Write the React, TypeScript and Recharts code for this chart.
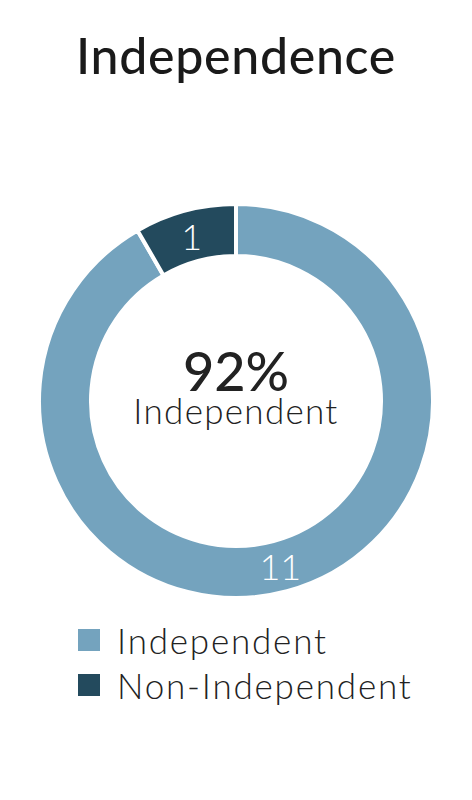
import { Cell, Pie, PieChart } from "recharts";

const categories = ["Independent", "Non-Independent"];
const counts = [11, 1];
const colors = ["#74A3BE", "#234A5D"];
const centerValue = "92%";
const centerLabel = "Independent";

const data = categories.map((name, i) => ({ name, value: counts[i] }));

const FONT = "Lato, 'Noto Sans', sans-serif";

function renderSliceLabel(props: any) {
  const { cx, cy, midAngle, innerRadius, outerRadius, value } = props;
  const r = (innerRadius + outerRadius) / 2;
  const rad = (Math.PI / 180) * midAngle;
  const x = cx + r * Math.cos(rad);
  const y = cy - r * Math.sin(rad);
  return (
    <text x={x} y={y} fill="#fff" fontSize={36} fontWeight={300} fontFamily={FONT} textAnchor="middle" dominantBaseline="central">
      {value}
    </text>
  );
}

function CenterText() {
  const base = { position: "absolute" as const, left: 0, width: 472, textAlign: "center" as const, fontFamily: FONT, color: "#222" };
  return (
    <>
      <div style={{ ...base, top: 343, fontSize: 54, fontWeight: 500, lineHeight: "56px" }}>{centerValue}</div>
      <div style={{ ...base, top: 395, fontSize: 35, fontWeight: 300, lineHeight: "30px", letterSpacing: 1.3 }}>{centerLabel}</div>
    </>
  );
}

function LegendBox() {
  return (
    <div style={{ position: "absolute", top: 617, left: 78, fontFamily: FONT, fontSize: 35, fontWeight: 300, color: "#222" }}>
      {categories.map((c, i) => (
        <div key={c} style={{ display: "flex", alignItems: "center", height: 45 }}>
          <span style={{ width: 22, height: 22, background: colors[i], marginRight: 17, display: "inline-block" }} />
          <span style={{ letterSpacing: 1.8 }}>{c}</span>
        </div>
      ))}
    </div>
  );
}

export default function App() {
  return (
    <div style={{ position: "absolute", left: 0, top: 0, width: 472, height: 800, background: "#fff" }}>
      <div
        style={{
          position: "absolute",
          top: 25,
          width: 472,
          textAlign: "center",
          fontFamily: FONT,
          fontSize: 50,
          fontWeight: 500,
          color: "#1a1a1a",
          letterSpacing: 0.7,
        }}
      >
        Independence
      </div>
      <PieChart width={472} height={800} margin={{ top: 0, right: 0, bottom: 0, left: 0 }} style={{ position: "absolute", left: 0, top: 0 }}>
        <Pie
          data={data}
          dataKey="value"
          nameKey="name"
          cx={236}
          cy={401}
          innerRadius={145}
          outerRadius={197}
          startAngle={90}
          endAngle={-270}
          stroke="#fff"
          strokeWidth={4}
          label={renderSliceLabel}
          labelLine={false}
          isAnimationActive={false}
        >
          {data.map((d, i) => (
            <Cell key={d.name} fill={colors[i]} />
          ))}
        </Pie>
      </PieChart>
      <CenterText />
      <LegendBox />
    </div>
  );
}
